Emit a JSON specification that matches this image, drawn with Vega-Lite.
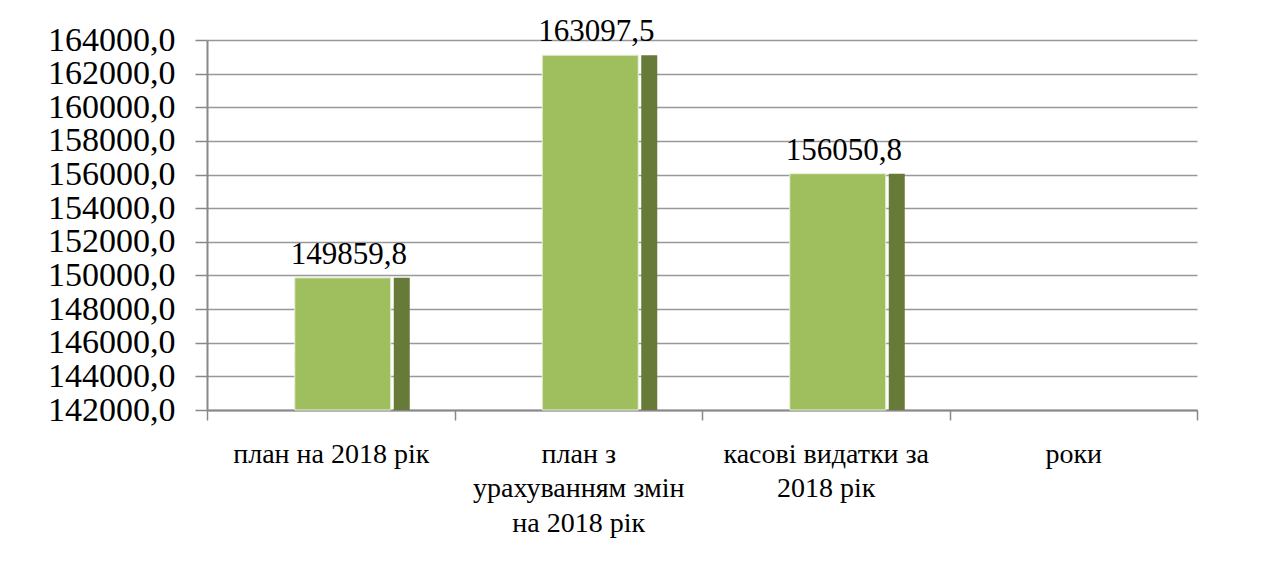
{
  "$schema": "https://vega.github.io/schema/vega-lite/v6.json",
  "width": 1033,
  "height": 370,
  "autosize": "none",
  "padding": {"left": 207, "top": 40, "right": 43, "bottom": 175},
  "background": "white",
  "config": {
    "locale": {"number": {"decimal": ",", "thousands": "", "grouping": [3], "currency": ["", ""]}},
    "view": {"stroke": null},
    "font": "Liberation Serif"
  },
  "data": {
    "values": [
      {"cat": "план на 2018 рік", "value": 149859.8},
      {"cat": "план з|урахуванням змін|на  2018 рік", "value": 163097.5},
      {"cat": "касові видатки  за|2018 рік", "value": 156050.8}
    ]
  },
  "encoding": {
    "x": {
      "field": "cat",
      "type": "nominal",
      "sort": null,
      "scale": {
        "domain": ["план на 2018 рік", "план з|урахуванням змін|на  2018 рік", "касові видатки  за|2018 рік", "роки"],
        "range": [0, 990],
        "paddingInner": 0,
        "paddingOuter": 0
      },
      "axis": {
        "title": null,
        "labelAngle": 0,
        "labelExpr": "split(datum.label, '|')",
        "labelFont": "Liberation Serif",
        "labelFontSize": 28,
        "labelColor": "#000000",
        "labelLimit": 0,
        "labelLineHeight": 34.5,
        "labelPadding": 20,
        "labelBaseline": "top",
        "tickBand": "extent",
        "tickSize": 10,
        "tickColor": "#888888",
        "tickWidth": 1.5,
        "domainColor": "#888888",
        "domainWidth": 2,
        "grid": false
      }
    },
    "y": {
      "field": "value",
      "type": "quantitative",
      "scale": {"domain": [142000, 164000], "zero": false, "nice": false},
      "axis": {
        "title": null,
        "values": [142000, 144000, 146000, 148000, 150000, 152000, 154000, 156000, 158000, 160000, 162000, 164000],
        "format": ".1f",
        "labelFont": "Liberation Serif",
        "labelFontSize": 34,
        "labelColor": "#000000",
        "labelOverlap": false,
        "labelPadding": 20,
        "labelBaseline": "middle",
        "tickSize": 12,
        "tickColor": "#888888",
        "tickWidth": 1.5,
        "domainColor": "#888888",
        "domainWidth": 2,
        "grid": true,
        "gridColor": "#999999",
        "gridWidth": 1.5
      }
    }
  },
  "layer": [
    {
      "mark": {"type": "bar", "width": 96, "xOffset": 12, "color": "#9fbf5e", "stroke": "#e8f0d8", "strokeWidth": 1},
      "encoding": {"y2": {"datum": 142000}}
    },
    {
      "mark": {"type": "bar", "width": 16, "xOffset": 71, "color": "#677a37"},
      "encoding": {"y2": {"datum": 142000}}
    },
    {
      "mark": {"type": "text", "xOffset": 18, "dy": -14, "baseline": "alphabetic", "font": "Liberation Serif", "fontSize": 31, "color": "#000000"},
      "encoding": {
        "text": {"field": "value", "type": "quantitative", "format": ".1f"}
      }
    }
  ]
}
